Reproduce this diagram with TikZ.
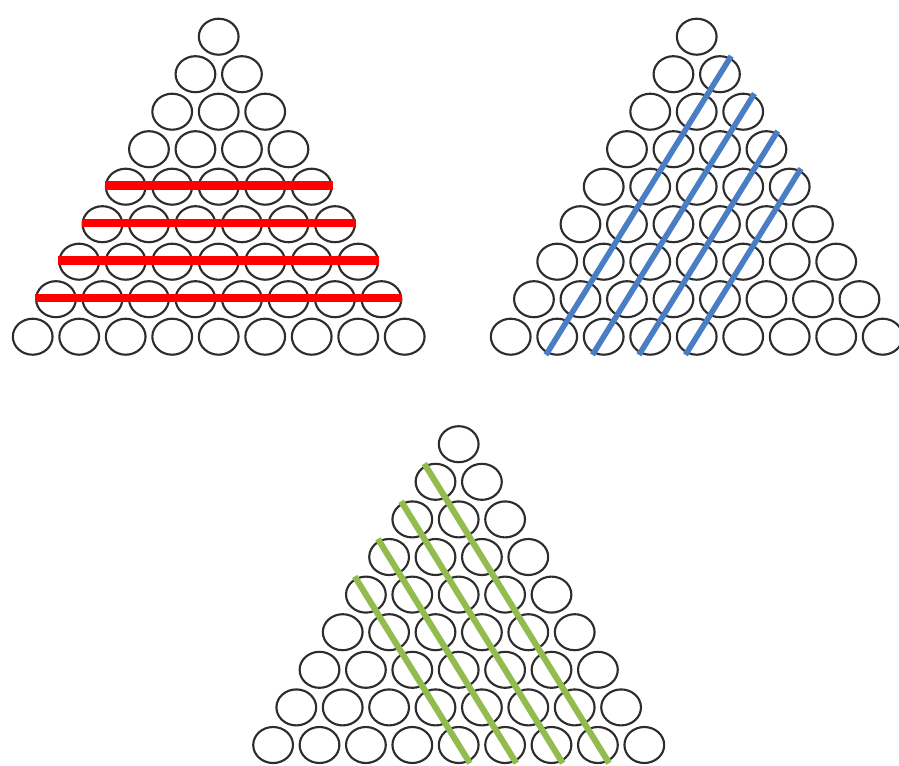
\documentclass[tikz,border=0pt]{standalone}
\usetikzlibrary{shapes.geometric}
\definecolor{ballline}{RGB}{45,45,45}
\definecolor{redbar}{RGB}{255,0,0}
\definecolor{bluebar}{RGB}{74,126,196}
\definecolor{greenbar}{RGB}{146,188,78}
\tikzset{
  ball/.style={ellipse, draw=ballline, line width=1.6pt, inner sep=0pt,
    minimum width=29.8pt, minimum height=27pt},
  redline/.style={draw=redbar, line width=6.4pt},
  blueline/.style={draw=bluebar, line width=4.2pt, shorten <=-16pt, shorten >=-16pt},
  greenline/.style={draw=greenbar, line width=4.6pt, shorten <=-16pt, shorten >=-16pt}
}
\begin{document}
\begin{tikzpicture}[x=0.75pt,y=-0.75pt]
\useasboundingbox (0,0) rectangle (899,765);
% the three triangles of balls
\foreach \r in {1,...,9}{
  \foreach \c in {1,...,\r}{
    \node[ball] (A-\r-\c) at ({218.7+(\c-(\r+1)/2)*46.5},{36.7+(\r-1)*37.5}) {};
    \node[ball] (B-\r-\c) at ({696.7+(\c-(\r+1)/2)*46.5},{36.7+(\r-1)*37.5}) {};
    \node[ball] (C-\r-\c) at ({458.7+(\c-(\r+1)/2)*46.4},{444.2+(\r-1)*37.6}) {};
  }
}
% red horizontal bars
\foreach \r in {5,...,8}{
  \draw[redline] ([yshift=1pt]A-\r-1.west) -- ([yshift=1pt]A-\r-\r.east);
}
% blue diagonals
\foreach \k in {2,...,5}{
  \draw[blueline] (B-9-\k.center) -- (B-\k-\k.center);
}
% green diagonals
\foreach \k in {2,...,5}{
  \pgfmathtruncatemacro{\j}{10-\k}
  \draw[greenline] (C-\k-1.center) -- (C-9-\j.center);
}
\end{tikzpicture}
\end{document}
